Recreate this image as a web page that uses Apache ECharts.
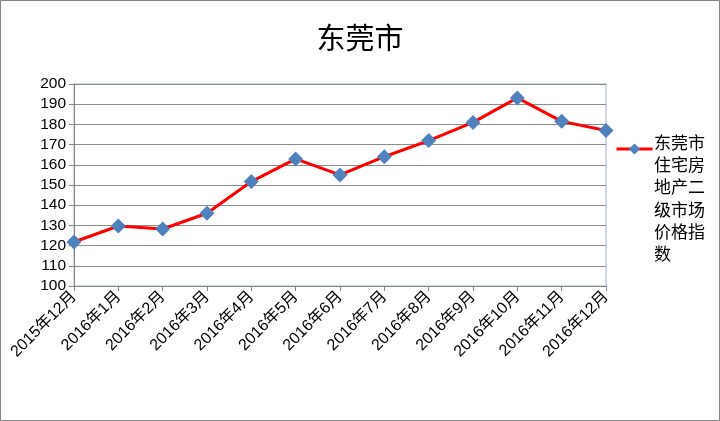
<!DOCTYPE html>
<html><head><meta charset="utf-8">
<script src="https://cdn.jsdelivr.net/npm/echarts@6/dist/echarts.min.js"></script>
<style>html,body{margin:0;padding:0;background:#fff}#c{width:720px;height:421px}</style>
</head><body><div id="c"></div>
<script>
const categories = ['2015年12月','2016年1月','2016年2月','2016年3月','2016年4月','2016年5月','2016年6月','2016年7月','2016年8月','2016年9月','2016年10月','2016年11月','2016年12月'];
const values = [121.8, 129.7, 128.2, 136, 151.7, 162.9, 155, 164, 172, 181, 193.1, 181.5, 177];
const seriesName = '东莞市住宅房地产二级市场价格指数';
const titleText = '东莞市';
const yTicks = {min: 100, max: 200, interval: 10};

const font = '"Liberation Sans","Noto Sans CJK SC",sans-serif';
const cjk = '"Noto Sans CJK SC",sans-serif';
const chart = echarts.init(document.getElementById('c'), null, {renderer: 'canvas'});
chart.setOption({
  animation: false,
  backgroundColor: '#fff',
  title: {text: titleText, left: 'center', top: 18, textStyle: {fontSize: 29, fontWeight: 'normal', color: '#000', fontFamily: cjk}},
  grid: {left: 74, right: 114, top: 84, bottom: 135, show: true, borderColor: '#9db3d2', borderWidth: 1},
  legend: {
    orient: 'vertical', left: 610, top: 137, itemWidth: 36, itemHeight: 14, itemGap: 0,
    formatter: () => '',
    textStyle: {fontSize: 1},
    lineStyle: {width: 3}
  },
  xAxis: {
    type: 'category', data: categories, boundaryGap: false,
    axisLine: {lineStyle: {color: '#868686'}},
    axisTick: {show: true, length: 5, lineStyle: {color: '#868686'}, alignWithLabel: true},
    axisLabel: {rotate: 45, fontSize: 16, color: '#000', fontFamily: font, margin: 8, interval: 0},
    splitLine: {show: false}
  },
  yAxis: {
    type: 'value', min: yTicks.min, max: yTicks.max, interval: yTicks.interval,
    axisLine: {show: true, lineStyle: {color: '#868686'}},
    axisTick: {show: true, length: 5, lineStyle: {color: '#868686'}},
    axisLabel: {fontSize: 15.5, color: '#000', fontFamily: font, margin: 8},
    splitLine: {lineStyle: {color: '#8c8c8c', width: 1}}
  },
  series: [{
    name: seriesName, type: 'line', data: values,
    lineStyle: {color: '#ff0000', width: 3},
    itemStyle: {color: '#4f81bd'},
    symbol: 'diamond', symbolSize: 15, showSymbol: true
  }],
  graphic: [
    {type: 'text', left: 654, top: 131, silent: true,
     style: {text: seriesName.match(/.{1,3}/g).join('\n'), fill: '#000', fontSize: 17, lineHeight: 22.3, fontFamily: cjk}},
    {type: 'rect', shape: {x: 0.5, y: 0.5, width: 719, height: 420}, style: {fill: 'none', stroke: '#868686', lineWidth: 1}, silent: true, z: 100}
  ]
});
</script></body></html>
